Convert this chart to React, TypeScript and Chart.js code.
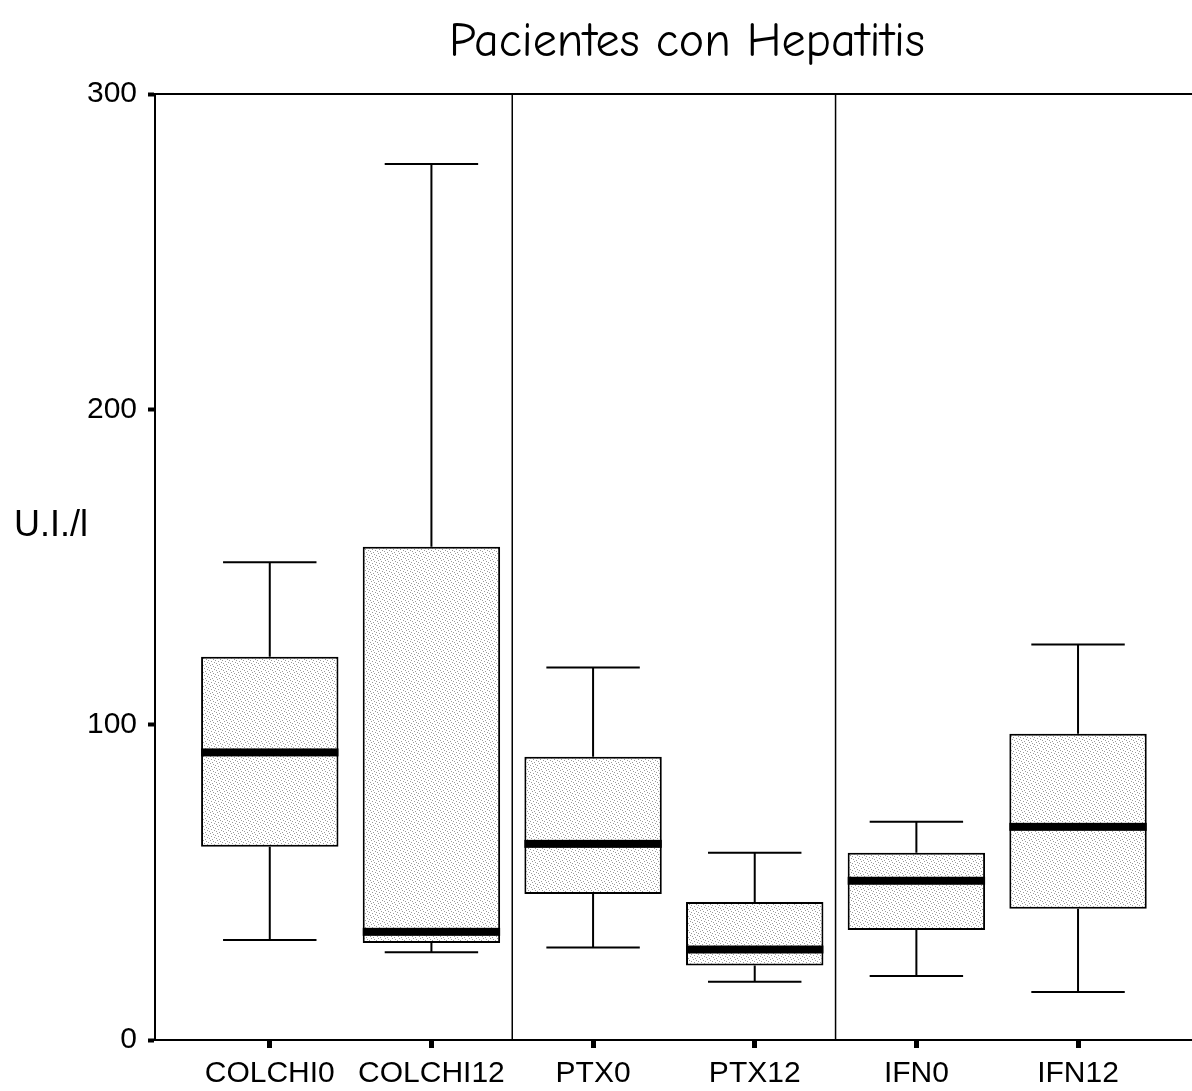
import { useEffect, useRef } from "react";
import { Chart, registerables } from "chart.js";

Chart.register(...registerables);

const categories = ["COLCHI0", "COLCHI12", "PTX0", "PTX12", "IFN0", "IFN12"];
const whiskerLow = [31.7, 27.8, 29.3, 18.5, 20.3, 15.2];
const q1 = [61.3, 30.8, 46.3, 23.6, 34.9, 41.6];
const median = [91.2, 34.3, 62.2, 28.7, 50.5, 67.6];
const q3 = [121.5, 156.4, 89.8, 43.8, 59.4, 97.1];
const whiskerHigh = [151.5, 277.8, 118.1, 59.4, 69.2, 125.4];
const yTickValues = [0, 100, 200, 300];
const groupDividers = [1.5, 3.5];
const chartTitle = "Pacientes con Hepatitis";
const yAxisTitle = "U.I./l";

const FONT = '"Liberation Sans", Arial, sans-serif';

function makePattern(): CanvasPattern | string {
  const c = document.createElement("canvas");
  c.width = 7;
  c.height = 7;
  const g = c.getContext("2d");
  if (!g) return "#e6e6e6";
  g.fillStyle = "#ffffff";
  g.fillRect(0, 0, 7, 7);
  g.fillStyle = "#9a9a9a";
  const dots = [
    [0, 0], [3, 1], [5, 2], [1, 3], [4, 4], [6, 5], [2, 6],
  ];
  dots.forEach(([x, y]) => g.fillRect(x, y, 1, 1));
  const p = g.createPattern(c, "repeat");
  return p || "#e6e6e6";
}

const boxPlotPlugin = {
  id: "boxPlotExtras",
  beforeDatasetsDraw(chart: any) {
    const { ctx, chartArea, scales } = chart;
    ctx.save();
    ctx.strokeStyle = "#000";
    ctx.lineWidth = 1.5;
    groupDividers.forEach((v) => {
      const x = scales.x.getPixelForValue(v);
      ctx.beginPath();
      ctx.moveTo(x, chartArea.top);
      ctx.lineTo(x, chartArea.bottom);
      ctx.stroke();
    });
    ctx.lineWidth = 2;
    ctx.beginPath();
    ctx.moveTo(chartArea.left, chartArea.top);
    ctx.lineTo(chartArea.right, chartArea.top);
    ctx.stroke();
    ctx.restore();
  },
  afterDatasetsDraw(chart: any) {
    const { ctx, scales } = chart;
    const meta = chart.getDatasetMeta(0);
    const ys = scales.y;
    ctx.save();
    ctx.strokeStyle = "#000";
    ctx.fillStyle = "#000";
    ctx.lineWidth = 2;
    meta.data.forEach((el: any, i: number) => {
      const x = el.x;
      const w = el.width;
      const cap = w * 0.68;
      const yHi = ys.getPixelForValue(whiskerHigh[i]);
      const yQ3 = ys.getPixelForValue(q3[i]);
      const yQ1 = ys.getPixelForValue(q1[i]);
      const yLo = ys.getPixelForValue(whiskerLow[i]);
      const yMed = ys.getPixelForValue(median[i]);
      ctx.beginPath();
      ctx.moveTo(x, yHi);
      ctx.lineTo(x, yQ3);
      ctx.moveTo(x, yQ1);
      ctx.lineTo(x, yLo);
      ctx.moveTo(x - cap / 2, yHi);
      ctx.lineTo(x + cap / 2, yHi);
      ctx.moveTo(x - cap / 2, yLo);
      ctx.lineTo(x + cap / 2, yLo);
      ctx.stroke();
      ctx.fillRect(x - w / 2, yMed - 4, w, 8);
    });
    ctx.restore();
  },
  afterDraw(chart: any) {
    const { ctx } = chart;
    ctx.save();
    ctx.fillStyle = "#000";
    ctx.textAlign = "center";
    ctx.textBaseline = "middle";
    ctx.font = '48px "Comic Sans MS", "Comic Neue", "DejaVu Sans", sans-serif';
    ctx.fillText(chartTitle, 687, 42);
    ctx.textAlign = "left";
    ctx.font = "36px " + FONT;
    ctx.fillText(yAxisTitle, 14, 526);
    ctx.restore();
  },
};

export default function App() {
  const ref = useRef<HTMLCanvasElement | null>(null);
  useEffect(() => {
    if (!ref.current) return;
    const pattern = makePattern();
    const chart = new Chart(ref.current, {
      type: "bar",
      data: {
        datasets: [
          {
            data: categories.map((_, i) => ({ x: i, y: [q1[i], q3[i]] })) as any,
            backgroundColor: pattern as any,
            borderColor: "#000",
            borderWidth: 2,
            borderSkipped: false,
            categoryPercentage: 1,
            barPercentage: 0.85,
          },
        ],
      },
      options: {
        responsive: false,
        animation: false,
        events: [],
        layout: { padding: { top: 94, left: 0, right: 0, bottom: 0 } },
        plugins: {
          legend: { display: false },
          tooltip: { enabled: false },
          title: { display: false },
        },
        scales: {
          x: {
            type: "linear",
            min: -0.71,
            max: 5.705,
            offset: false,
            afterFit: (s: any) => {
              s.height = 51;
            },
            border: { display: true, color: "#000", width: 2 },
            grid: {
              display: true,
              offset: false,
              drawOnChartArea: false,
              drawTicks: true,
              tickLength: 8,
              tickWidth: 5,
              tickColor: "#000",
            },
            ticks: {
              stepSize: 1,
              includeBounds: false,
              autoSkip: false,
              maxRotation: 0,
              padding: 8,
              color: "#000",
              font: { family: FONT, size: 30 },
              callback: (v: any) =>
                Number.isInteger(v) && categories[v] ? categories[v] : "",
            },
          },
          y: {
            type: "linear",
            min: 0,
            max: 300,
            afterFit: (s: any) => {
              s.width = 155;
            },
            afterBuildTicks: (s: any) => {
              s.ticks = yTickValues.map((v) => ({ value: v }));
            },
            border: { display: true, color: "#000", width: 2 },
            grid: {
              display: true,
              drawOnChartArea: false,
              drawTicks: true,
              tickLength: 7,
              tickWidth: 4,
              tickColor: "#000",
            },
            ticks: {
              padding: 11,
              color: "#000",
              font: { family: FONT, size: 30 },
            },
          },
        },
      },
      plugins: [boxPlotPlugin],
    });
    return () => chart.destroy();
  }, []);
  return (
    <div style={{ position: "absolute", left: 0, top: 0, width: 1192, height: 1091, background: "#fff" }}>
      <canvas ref={ref} width={1192} height={1091} />
    </div>
  );
}
